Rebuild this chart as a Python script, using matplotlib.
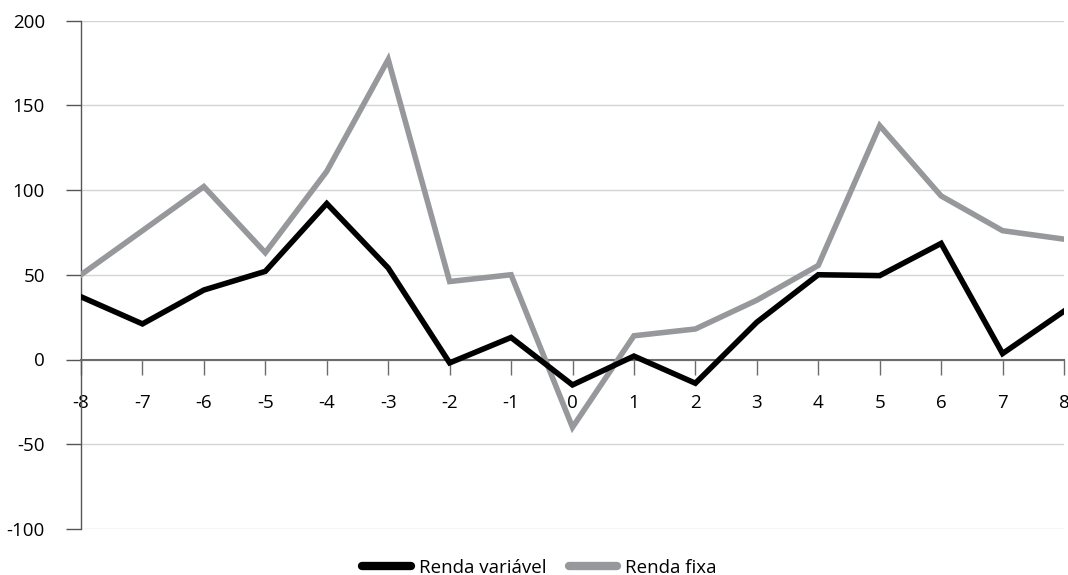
import matplotlib.pyplot as plt
import numpy as np

plt.rcParams['font.family'] = ['Open Sans', 'DejaVu Sans']
plt.rcParams['axes.unicode_minus'] = False

# eixo x: periodos relativos ao evento
periodos = list(range(-8, 9))
renda_variavel = [37, 21, 41, 52, 92, 54, -2, 13, -15, 2, -14, 22, 50, 49.5, 68.5, 3.5, 28.5]
renda_fixa = [50, 76, 102, 63, 111, 177, 46, 50, -40, 14, 18, 35, 55.5, 138, 96.5, 76, 71]
y_ticks = [-100, -50, 0, 50, 100, 150, 200]

fig = plt.figure(figsize=(10.68, 5.75), dpi=100)
ax = fig.add_axes([81 / 1068, 1 - 529 / 575, (1064 - 81) / 1068, (529 - 20.5) / 575])

ax.plot(periodos, renda_variavel, color='black', lw=4, label='Renda variável',
        solid_joinstyle='miter', zorder=4)
ax.plot(periodos, renda_fixa, color='#97989b', lw=4, label='Renda fixa',
        solid_joinstyle='miter', zorder=3)

ax.set_xlim(-8, 8)
ax.set_ylim(-100, 200)
ax.set_xticks(periodos)
ax.set_yticks(y_ticks)

ax.grid(axis='y', color='#d4d4d4', lw=1)
ax.set_axisbelow(True)

for s in ['top', 'right']:
    ax.spines[s].set_visible(False)
ax.spines['bottom'].set_position(('data', 0))
ax.spines['bottom'].set_color('#6b6b6b')
ax.spines['bottom'].set_linewidth(1.5)
ax.spines['left'].set_color('#555555')
ax.spines['left'].set_linewidth(1)

ax.tick_params(axis='x', direction='out', length=11, width=1, color='#6b6b6b',
               labelsize=13.5, pad=14)
ax.tick_params(axis='y', direction='out', length=11, width=1, color='#555555',
               labelsize=13.5, pad=15)

fig.legend(loc='center', bbox_to_anchor=(0.505, 1 - 568 / 575), ncol=2,
           frameon=False, fontsize=13.5, handlelength=2.6, handletextpad=0.4,
           columnspacing=1.2, borderpad=0, borderaxespad=0)
for line in fig.legends[0].get_lines():
    line.set_linewidth(6)
    line.set_solid_capstyle('round')

fig.savefig('out.png', dpi=100)
